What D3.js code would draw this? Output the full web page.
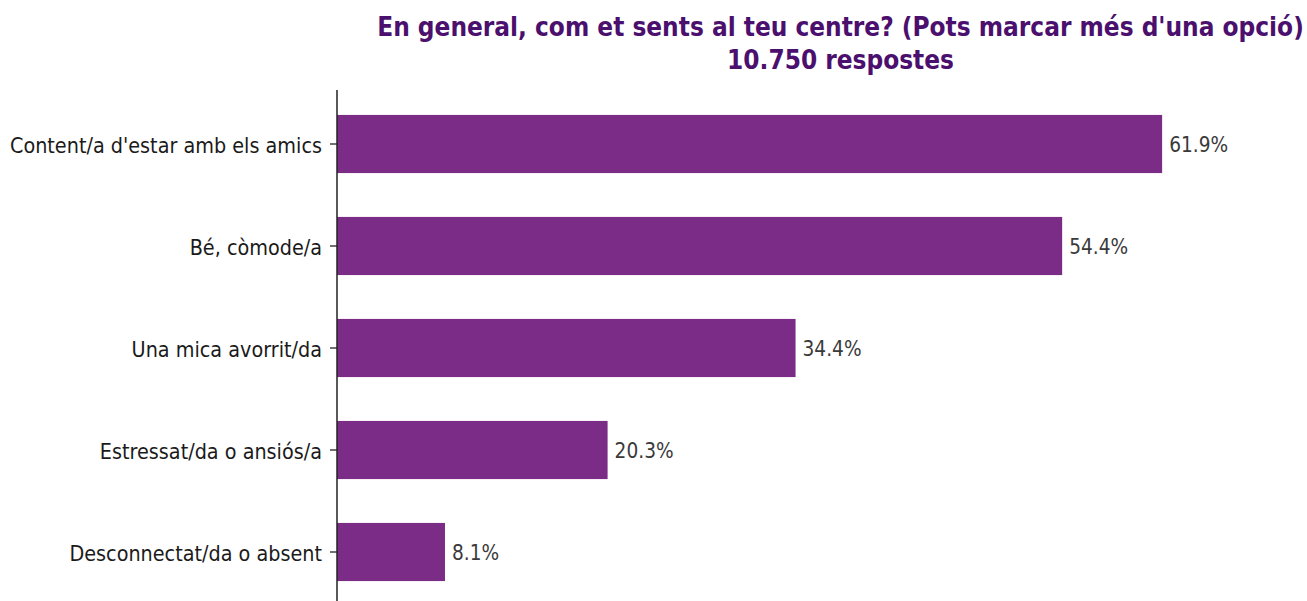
<!DOCTYPE html>
<html>
<head>
<meta charset="utf-8">
<script src="https://cdn.jsdelivr.net/npm/d3@7"></script>
<style>
  html, body { margin: 0; padding: 0; background: #fff; }
  svg { display: block; }
  text { font-family: "DejaVu Sans", sans-serif; }
</style>
</head>
<body>
<svg id="chart" width="1307" height="601"></svg>
<script>
const titleLines = ["En general, com et sents al teu centre? (Pots marcar més d'una opció)", "10.750 respostes"];
const categories = ["Content/a d'estar amb els amics", "Bé, còmode/a", "Una mica avorrit/da", "Estressat/da o ansiós/a", "Desconnectat/da o absent"];
const values = [61.9, 54.4, 34.4, 20.3, 8.1];
const valueLabels = ["61.9%", "54.4%", "34.4%", "20.3%", "8.1%"];

const W = 1307, H = 601;
const SX_LABEL = 0.874; // horizontal compression of glyphs in the reference
const SX_VALUE = 0.885;
const SX_TITLE = 0.898;
const barColor = "#7b2c86";
const titleColor = "#4b0f6e";

const svg = d3.select("#chart");

const x = d3.scaleLinear().domain([0, 65]).range([337, 337 + 65 * 13.33]);
const y = d3.scaleBand().domain(categories).range([93, 603]).paddingInner(0.43).paddingOuter(0.215);

// bars
svg.append("g").selectAll("rect")
  .data(categories)
  .join("rect")
  .attr("x", x(0))
  .attr("y", d => y(d))
  .attr("width", (d, i) => x(values[i]) - x(0))
  .attr("height", y.bandwidth())
  .attr("fill", barColor);

// left axis
const yAxis = d3.axisLeft(y).tickSize(7).tickPadding(8).tickFormat(() => "");
const gAxis = svg.append("g").attr("transform", `translate(${x(0)},0)`).call(yAxis);
gAxis.select(".domain").remove();
gAxis.selectAll(".tick line").attr("stroke", "#222").attr("stroke-width", 1.3);
svg.append("line")
  .attr("x1", x(0)).attr("x2", x(0))
  .attr("y1", 90).attr("y2", H + 5)
  .attr("stroke", "#222").attr("stroke-width", 1.5);

// tick labels (compressed)
svg.append("g").selectAll("text")
  .data(categories)
  .join("text")
  .attr("transform", d => `translate(${x(0) - 15},${y(d) + y.bandwidth() / 2 + 9}) scale(${SX_LABEL},1)`)
  .attr("text-anchor", "end")
  .attr("font-size", 22)
  .attr("fill", "#1a1a1a")
  .text(d => d);

// value labels
svg.append("g").selectAll("text")
  .data(categories)
  .join("text")
  .attr("transform", (d, i) => `translate(${x(values[i]) + 7},${y(d) + y.bandwidth() / 2 + 8}) scale(${SX_VALUE},1)`)
  .attr("font-size", 21)
  .attr("fill", "#3a3a3a")
  .text((d, i) => valueLabels[i]);

// title
const tY = [36, 69];
svg.append("g").selectAll("text")
  .data(titleLines)
  .join("text")
  .attr("transform", (d, i) => `translate(840.5,${tY[i]}) scale(${SX_TITLE},1)`)
  .attr("text-anchor", "middle")
  .attr("font-size", 26)
  .attr("font-weight", "bold")
  .attr("fill", titleColor)
  .text(d => d);
</script>
</body>
</html>
